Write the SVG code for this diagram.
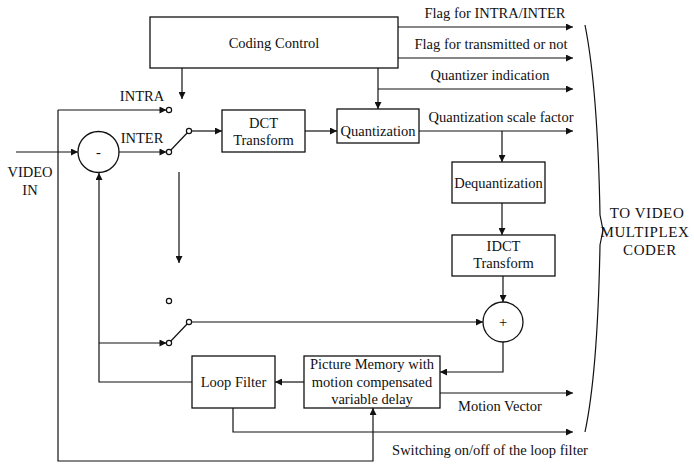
<svg xmlns="http://www.w3.org/2000/svg" width="694" height="466" viewBox="0 0 694 466">
  <defs>
    <marker id="arrow" viewBox="0 0 10 10" refX="10" refY="5" markerWidth="9" markerHeight="7" markerUnits="userSpaceOnUse" orient="auto">
      <path d="M0,0 L10,5 L0,10 Z" fill="#111"/>
    </marker>
    <style>
      .box { fill: #fff; stroke: #111; stroke-width: 1.3; }
      .ln { fill: none; stroke: #111; stroke-width: 1.2; }
      .ar { fill: none; stroke: #111; stroke-width: 1.2; marker-end: url(#arrow); }
      .pin { fill: #fff; stroke: #111; stroke-width: 1.2; }
      text { font-family: "Liberation Serif", "Times New Roman", serif; font-size: 14.5px; fill: #111; text-anchor: middle; }
      .side { font-size: 15px; letter-spacing: 0.6px; }
    </style>
  </defs>
  <rect width="694" height="466" fill="#fff"/>

  <g id="connectors">
    <!-- control outputs -->
    <path class="ar" d="M182,68 V99"/>
    <path class="ar" d="M378,68 V109"/>
    <path class="ar" d="M378,89 H573"/>
    <path class="ar" d="M398,27 H573"/>
    <path class="ar" d="M398,58 H573"/>
    <!-- input and subtractor -->
    <path class="ar" d="M16,152 H78"/>
    <path class="ar" d="M58,110 H166.5"/>
    <path class="ar" d="M119,152 H166.5"/>
    <path class="ln" d="M169,152 L189,131"/>
    <path class="ar" d="M191.5,131 H222"/>
    <path class="ar" d="M305,131 H337"/>
    <!-- quantized output -->
    <path class="ar" d="M419,131 H573"/>
    <path class="ar" d="M502,131 V162"/>
    <path class="ar" d="M502,203 V235"/>
    <path class="ar" d="M503,276 V302"/>
    <!-- lower switch -->
    <path class="ar" d="M179,172 V263"/>
    <path class="ar" d="M99,343 H166.5"/>
    <path class="ln" d="M169,343 L189,322"/>
    <path class="ar" d="M191.5,322 H483"/>
    <!-- prediction loop -->
    <path class="ar" d="M192,382 H99 V173"/>
    <path class="ar" d="M503,342 V372 H440"/>
    <path class="ar" d="M304,382 H275"/>
    <path class="ar" d="M440,393 H573"/>
    <path class="ar" d="M233,408 V432 H573"/>
    <path class="ar" d="M58,110 V461 H373 V408"/>
    <!-- switch contacts -->
    <circle class="pin" cx="169" cy="110" r="2.6"/>
    <circle class="pin" cx="169" cy="152" r="2.6"/>
    <circle class="pin" cx="189" cy="131" r="2.6"/>
    <circle class="pin" cx="169" cy="301" r="2.6"/>
    <circle class="pin" cx="169" cy="343" r="2.6"/>
    <circle class="pin" cx="189" cy="322" r="2.6"/>
  </g>

  <g id="coding-control">
    <rect class="box" x="150" y="17" width="248" height="51"/>
    <text x="274" y="48">Coding Control</text>
  </g>
  <g id="subtractor">
    <circle class="box" cx="98.5" cy="152" r="20.5"/>
    <text x="98.5" y="157">-</text>
  </g>
  <g id="dct">
    <rect class="box" x="222" y="110" width="83" height="42"/>
    <text x="263.5" y="128">DCT</text>
    <text x="263.5" y="145">Transform</text>
  </g>
  <g id="quantization">
    <rect class="box" x="337" y="109" width="82" height="34"/>
    <text x="378" y="136">Quantization</text>
  </g>
  <g id="dequantization">
    <rect class="box" x="452" y="162" width="93" height="41"/>
    <text x="498.5" y="188">Dequantization</text>
  </g>
  <g id="idct">
    <rect class="box" x="452" y="235" width="103" height="41"/>
    <text x="503.5" y="251">IDCT</text>
    <text x="503.5" y="268">Transform</text>
  </g>
  <g id="adder">
    <circle class="box" cx="503" cy="322" r="20"/>
    <text x="503" y="327">+</text>
  </g>
  <g id="loop-filter">
    <rect class="box" x="192" y="356" width="83" height="52"/>
    <text x="233.5" y="387">Loop Filter</text>
  </g>
  <g id="picture-memory">
    <rect class="box" x="304" y="356" width="136" height="52"/>
    <text x="372" y="369">Picture Memory with</text>
    <text x="372" y="387">motion compensated</text>
    <text x="372" y="404">variable delay</text>
  </g>

  <g id="labels">
    <text x="142" y="101">INTRA</text>
    <text x="142" y="143">INTER</text>
    <text x="30" y="177">VIDEO</text>
    <text x="30" y="195">IN</text>
    <text x="495" y="18">Flag for INTRA/INTER</text>
    <text x="491" y="49">Flag for transmitted or not</text>
    <text x="490" y="80">Quantizer indication</text>
    <text x="501" y="122">Quantization scale factor</text>
    <text x="500" y="411">Motion Vector</text>
    <text x="490" y="455">Switching on/off of the loop filter</text>
  </g>

  <g id="multiplex">
    <path class="ln" d="M585,25 C596,80 599,160 600,215 L603,230 L600,245 C599,300 596,380 585,432"/>
    <text class="side" x="647" y="218">TO VIDEO</text>
    <text class="side" x="645" y="237">MULTIPLEX</text>
    <text class="side" x="650" y="255">CODER</text>
  </g>
</svg>
